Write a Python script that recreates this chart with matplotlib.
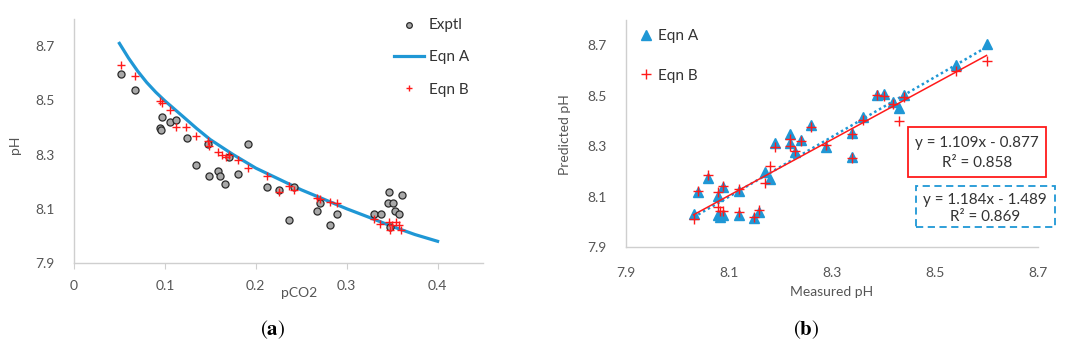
# ---------------------------------------------------------------------------- #
#                                   LIBRARIES                                  #
# ---------------------------------------------------------------------------- #
import numpy as np
import matplotlib
matplotlib.use("Agg")
import matplotlib.pyplot as plt
from matplotlib.patches import Rectangle

# ---------------------------------------------------------------------------- #
#                                     DATA                                     #
# ---------------------------------------------------------------------------- #
# (a) pH vs pCO2
exptl_pco2 = [0.052, 0.067, 0.097, 0.095, 0.096, 0.106, 0.112, 0.124, 0.134,
              0.147, 0.149, 0.158, 0.161, 0.166, 0.171, 0.180, 0.191, 0.212,
              0.226, 0.237, 0.242, 0.267, 0.271, 0.282, 0.289, 0.330, 0.338,
              0.345, 0.347, 0.351, 0.353, 0.358, 0.361, 0.348]
exptl_ph = [8.597, 8.538, 8.438, 8.399, 8.390, 8.420, 8.427, 8.360, 8.260,
            8.340, 8.220, 8.240, 8.220, 8.190, 8.290, 8.230, 8.340, 8.180,
            8.170, 8.060, 8.180, 8.090, 8.120, 8.040, 8.080, 8.082, 8.082,
            8.121, 8.160, 8.121, 8.092, 8.082, 8.152, 8.033]

eqnA_pco2 = [0.05, 0.06, 0.07, 0.08, 0.09, 0.10, 0.12, 0.135, 0.15, 0.175,
             0.20, 0.225, 0.25, 0.275, 0.30, 0.325, 0.35, 0.375, 0.40]
eqnA_ph = [8.71, 8.656, 8.608, 8.566, 8.530, 8.498, 8.440, 8.396, 8.355,
           8.300, 8.250, 8.210, 8.170, 8.135, 8.100, 8.068, 8.035, 8.005,
           7.980]

eqnB_pco2 = [0.052, 0.067, 0.095, 0.097, 0.106, 0.112, 0.123, 0.134, 0.147,
             0.149, 0.158, 0.163, 0.167, 0.170, 0.180, 0.191, 0.212, 0.226,
             0.237, 0.242, 0.267, 0.271, 0.282, 0.289, 0.330, 0.337, 0.346,
             0.348, 0.350, 0.354, 0.358, 0.360]
eqnB_ph = [8.630, 8.590, 8.496, 8.490, 8.466, 8.400, 8.400, 8.370, 8.350,
           8.330, 8.310, 8.300, 8.290, 8.300, 8.280, 8.250, 8.220, 8.160,
           8.185, 8.170, 8.140, 8.137, 8.126, 8.120, 8.061, 8.045, 8.051,
           8.020, 8.039, 8.051, 8.039, 8.023]

# (b) predicted vs measured pH
measured_ph = [8.031, 8.040, 8.060, 8.079, 8.089, 8.079, 8.083, 8.089, 8.120,
               8.120, 8.148, 8.159, 8.170, 8.180, 8.189, 8.218, 8.218, 8.228,
               8.239, 8.259, 8.289, 8.339, 8.339, 8.360, 8.388, 8.400, 8.419,
               8.430, 8.440, 8.541, 8.600]
pred_A = [8.032, 8.118, 8.177, 8.104, 8.138, 8.028, 8.022, 8.028, 8.124,
          8.028, 8.015, 8.039, 8.197, 8.173, 8.312, 8.348, 8.312, 8.278,
          8.325, 8.385, 8.298, 8.354, 8.260, 8.416, 8.502, 8.506, 8.476,
          8.453, 8.502, 8.624, 8.706]
pred_B = [8.012, 8.124, 8.186, 8.120, 8.144, 8.062, 8.045, 8.045, 8.130,
          8.039, 8.019, 8.049, 8.157, 8.223, 8.298, 8.330, 8.300, 8.282,
          8.321, 8.378, 8.304, 8.348, 8.256, 8.403, 8.502, 8.500, 8.469,
          8.400, 8.495, 8.598, 8.638]

# trendlines (slope, intercept) and R^2 as printed on the chart
fit_B = (1.109, -0.877, 0.858)
fit_A = (1.184, -1.489, 0.869)

xticks_a = [0, 0.1, 0.2, 0.3, 0.4]
yticks = [7.9, 8.1, 8.3, 8.5, 8.7]

# ---------------------------------------------------------------------------- #
#                                    STYLE                                     #
# ---------------------------------------------------------------------------- #
plt.rcParams["font.family"] = ["Lato", "DejaVu Sans"]
plt.rcParams["mathtext.fontset"] = "stix"

BLUE = "#1f97d5"
RED = "#ff1a1a"
AXIS = "#cfcfcf"
LABEL = "#555555"


def style_axes(ax):
    for side in ("top", "right"):
        ax.spines[side].set_visible(False)
    for side in ("left", "bottom"):
        ax.spines[side].set_color(AXIS)
        ax.spines[side].set_linewidth(1.0)
    ax.tick_params(colors=LABEL, labelsize=10)


def main():
    fig = plt.figure(figsize=(10.72, 3.58), dpi=100)

    # --------------------------- panel (a) --------------------------- #
    ax1 = fig.add_axes([0.069, 0.2654, 0.3816, 0.6816])
    style_axes(ax1)
    ax1.scatter(exptl_pco2, exptl_ph, s=26, facecolor="#a8a8a8",
                edgecolor="#2a2a2a", linewidth=0.9, zorder=3, label="Exptl")
    ax1.plot(eqnA_pco2, eqnA_ph, color=BLUE, lw=2.3, zorder=2, label="Eqn A")
    ax1.plot(eqnB_pco2, eqnB_ph, ls="none", marker="+", ms=6, mew=1.0,
             color=RED, zorder=4, label="Eqn B")
    ax1.set_xlim(0, 0.45)
    ax1.set_ylim(7.9, 8.8)
    ax1.set_xticks(xticks_a)
    ax1.set_xticklabels(["0", "0.1", "0.2", "0.3", "0.4"])
    ax1.set_yticks(yticks)
    ax1.tick_params(axis="x", length=4, color=AXIS, pad=8)
    ax1.tick_params(axis="y", length=0, pad=14)
    ax1.legend(loc="upper right", bbox_to_anchor=(1.0, 1.06), frameon=False,
               fontsize=11, handlelength=2.0, labelspacing=1.2,
               handletextpad=0.3, labelcolor="#333333", markerscale=0.8)

    fig.text(15 / 1072, 1 - 145 / 358, "pH", rotation=90, ha="center",
             va="center", fontsize=10, color=LABEL)
    fig.text(299 / 1072, 1 - 293 / 358, "pCO2", ha="center", va="center",
             fontsize=10, color=LABEL)

    # --------------------------- panel (b) --------------------------- #
    ax2 = fig.add_axes([0.584, 0.3087, 0.3843, 0.6349])
    style_axes(ax2)
    ax2.plot(measured_ph, pred_A, ls="none", marker="^", ms=6.5,
             color=BLUE, zorder=3, label="Eqn A")
    ax2.plot(measured_ph, pred_B, ls="none", marker="+", ms=6.5, mew=1.0,
             color=RED, zorder=5, label="Eqn B")

    xfit = np.array([min(measured_ph), max(measured_ph)])
    ax2.plot(xfit, fit_A[0] * xfit + fit_A[1], color=BLUE, lw=1.8,
             ls=(0, (1, 1.2)), zorder=4)
    ax2.plot(xfit, fit_B[0] * xfit + fit_B[1], color=RED, lw=1.1, zorder=4)

    ax2.set_xlim(7.9, 8.7)
    ax2.set_ylim(7.9, 8.8)
    ax2.set_xticks(yticks)
    ax2.set_yticks(yticks)
    ax2.tick_params(length=0)
    ax2.tick_params(axis="x", pad=14)
    ax2.tick_params(axis="y", pad=14)
    ax2.legend(loc="upper left", bbox_to_anchor=(0.0, 1.02), frameon=False,
               fontsize=11, handlelength=0.8, labelspacing=1.65,
               handletextpad=0.4, labelcolor="#333333")

    fig.text(565 / 1072, 1 - 135 / 358, "Predicted pH", rotation=90,
             ha="center", va="center", fontsize=10, color=LABEL)
    fig.text(832 / 1072, 1 - 292 / 358, "Measured pH", ha="center",
             va="center", fontsize=10, color=LABEL)

    # equation boxes
    box_red = Rectangle((907.7 / 1072, 1 - 176.7 / 358), 138 / 1072, 50 / 358,
                        transform=fig.transFigure, fill=False,
                        edgecolor=RED, lw=1.3)
    box_blue = Rectangle((916 / 1072, 1 - 226.7 / 358), 139 / 1072, 40.7 / 358,
                         transform=fig.transFigure, fill=False,
                         edgecolor=BLUE, lw=1.3, ls=(0, (4, 2.5)))
    fig.add_artist(box_red)
    fig.add_artist(box_blue)
    fig.text(976.7 / 1072, 1 - 142.7 / 358,
             f"y = {fit_B[0]:.3f}x - {abs(fit_B[1]):.3f}",
             ha="center", va="center", fontsize=11, color="#333333")
    fig.text(976.7 / 1072, 1 - 163 / 358, f"R\u00b2 = {fit_B[2]:.3f}",
             ha="center", va="center", fontsize=11, color="#333333")
    fig.text(985 / 1072, 1 - 200 / 358,
             f"y = {fit_A[0]:.3f}x - {abs(fit_A[1]):.3f}",
             ha="center", va="center", fontsize=11, color="#333333")
    fig.text(985 / 1072, 1 - 216.7 / 358, f"R\u00b2 = {fit_A[2]:.3f}",
             ha="center", va="center", fontsize=11, color="#333333")

    # panel captions
    fig.text(273 / 1072, 1 - 330 / 358, r"($\mathbf{a}$)", ha="center",
             va="center", fontsize=15, family="STIXGeneral", color="black")
    fig.text(806 / 1072, 1 - 330 / 358, r"($\mathbf{b}$)", ha="center",
             va="center", fontsize=15, family="STIXGeneral", color="black")

    fig.savefig("out.png", dpi=100)


# ---------------------------------------------------------------------------- #
#                                     MAIN                                     #
# ---------------------------------------------------------------------------- #
if __name__ == "__main__":
    main()
